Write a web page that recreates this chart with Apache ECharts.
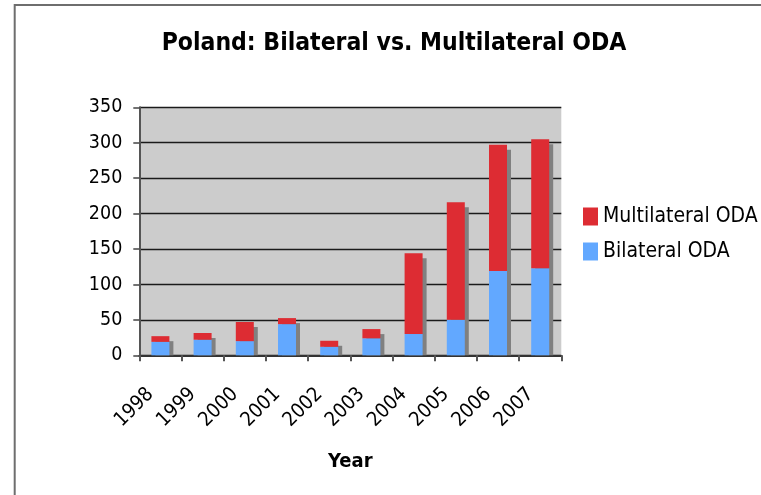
<!DOCTYPE html>
<html>
<head>
<meta charset="utf-8">
<script src="https://cdn.jsdelivr.net/npm/echarts@6/dist/echarts.min.js"></script>
<style>
  html, body { margin: 0; padding: 0; background: #fff; }
  #chart { width: 761px; height: 495px; }
</style>
</head>
<body>
<div id="chart"></div>
<script>
// Poland's official development assistance, millions USD
const years = ['1998', '1999', '2000', '2001', '2002', '2003', '2004', '2005', '2006', '2007'];
const bilateral = [19, 22, 20, 44, 12, 24, 30, 50, 119, 123];
const multilateral = [8, 9.5, 27, 8.5, 8.5, 13, 114, 166, 178, 182];
const yTicks = [0, 50, 100, 150, 200, 250, 300, 350];

const FONT = '"DejaVu Sans Condensed", "DejaVu Sans", sans-serif';
const BAR_W = 18;
const totals = years.map((y, i) => [i, bilateral[i] + multilateral[i]]);

const chart = echarts.init(document.getElementById('chart'), null, { renderer: 'canvas' });

chart.setOption({
  animation: false,
  backgroundColor: '#ffffff',
  title: {
    text: 'Poland: Bilateral vs. Multilateral ODA',
    left: 389,
    top: 26,
    textAlign: 'center',
    textStyle: { fontFamily: FONT, fontWeight: 'bold', fontSize: 24.5, color: '#000' }
  },
  legend: {
    orient: 'vertical',
    left: 583,
    top: 206,
    padding: 0,
    icon: 'rect',
    itemWidth: 15,
    itemHeight: 18,
    itemGap: 14,
    data: ['Multilateral ODA', 'Bilateral ODA'],
    textStyle: { fontFamily: FONT, fontSize: 21, color: '#000' }
  },
  graphic: [
    { type: 'line', shape: { x1: 14, y1: 5, x2: 761, y2: 5 }, style: { stroke: '#6e6e6e', lineWidth: 2 }, silent: true },
    { type: 'line', shape: { x1: 14.7, y1: 4, x2: 14.7, y2: 495 }, style: { stroke: '#6e6e6e', lineWidth: 2 }, silent: true }
  ],
  grid: {
    left: 139.3,
    right: 199.7,
    top: 107.3,
    bottom: 139.7,
    show: true,
    backgroundColor: '#cccccc',
    borderWidth: 0
  },
  xAxis: {
    type: 'category',
    data: years,
    name: 'Year',
    nameLocation: 'middle',
    nameGap: 96,
    nameTextStyle: { fontFamily: FONT, fontWeight: 'bold', fontSize: 20, color: '#000' },
    axisLine: { lineStyle: { color: '#333', width: 2 } },
    axisTick: { show: true, alignWithLabel: false, length: 6, lineStyle: { color: '#555', width: 2 } },
    axisLabel: {
      rotate: 45,
      margin: 26,
      padding: [0, 14, 0, 0],
      fontFamily: FONT,
      fontSize: 20,
      color: '#000'
    }
  },
  yAxis: {
    type: 'value',
    min: yTicks[0],
    max: yTicks[yTicks.length - 1],
    interval: yTicks[1] - yTicks[0],
    axisLine: { show: true, lineStyle: { color: '#555', width: 2 } },
    axisTick: { show: true, length: 6, lineStyle: { color: '#444', width: 1.5 } },
    axisLabel: { margin: 17, fontFamily: FONT, fontSize: 19.5, color: '#000' },
    splitLine: { lineStyle: { color: '#1a1a1a', width: 1.3 } }
  },
  series: [
    {
      // drop shadow behind each stacked column
      name: 'shadow',
      type: 'custom',
      silent: true,
      data: totals,
      encode: { x: 0, y: 1 },
      renderItem: function (params, api) {
        const top = api.coord([api.value(0), api.value(1)]);
        const base = api.coord([api.value(0), 0]);
        const x = top[0] - BAR_W / 2 + 4;
        const y = top[1] + 5;
        return {
          type: 'rect',
          shape: { x: x, y: y, width: BAR_W, height: Math.max(0, base[1] - y) },
          style: { fill: '#808080' }
        };
      },
      z: 1
    },
    {
      name: 'Bilateral ODA',
      type: 'bar',
      stack: 'oda',
      barWidth: BAR_W,
      data: bilateral,
      itemStyle: { color: '#62a8ff' },
      z: 3
    },
    {
      name: 'Multilateral ODA',
      type: 'bar',
      stack: 'oda',
      barWidth: BAR_W,
      data: multilateral,
      itemStyle: { color: '#dd2c33' },
      z: 3
    }
  ]
});
</script>
</body>
</html>
